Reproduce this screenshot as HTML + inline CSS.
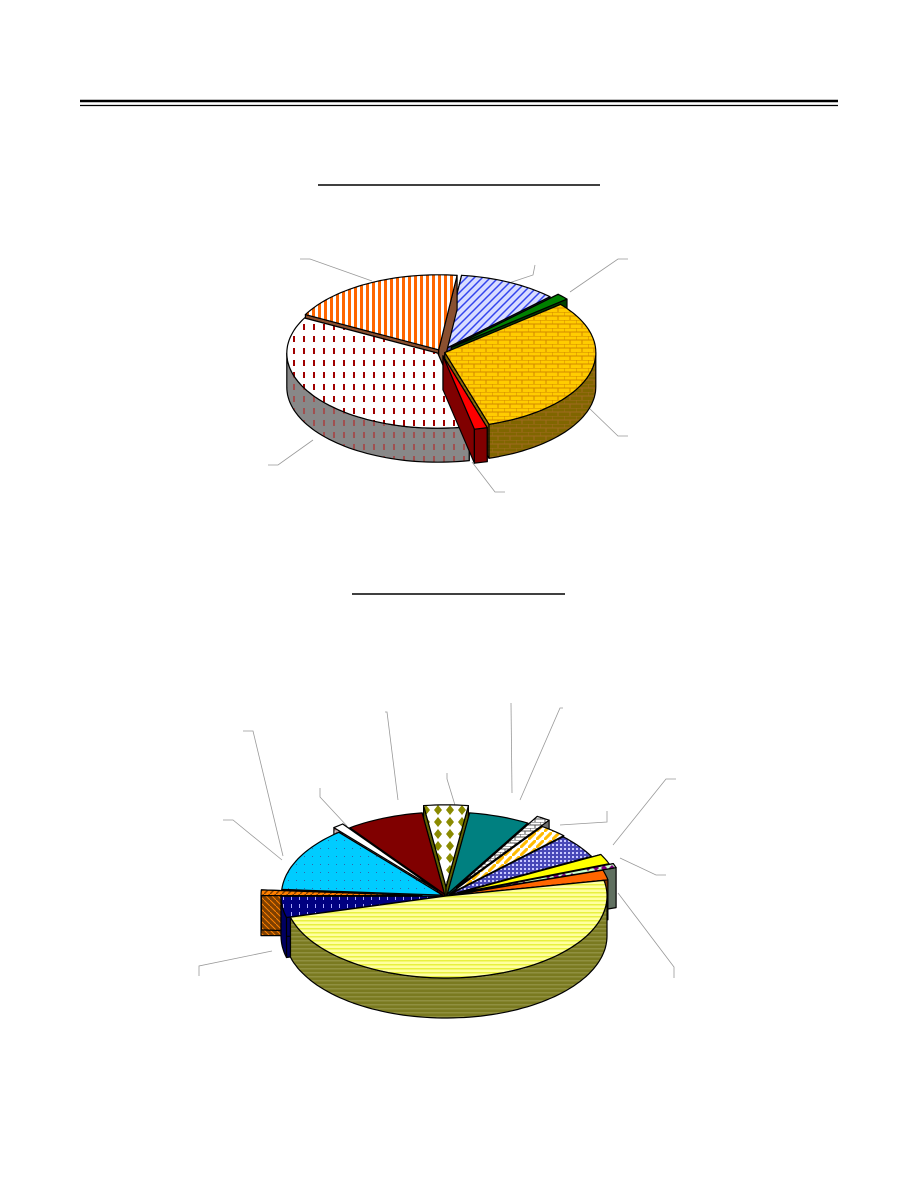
<!DOCTYPE html>
<html><head><meta charset="utf-8">
<style>
html,body{margin:0;padding:0;background:#fff;}
body{width:918px;height:1188px;overflow:hidden;font-family:"Liberation Sans",sans-serif;}
svg{position:absolute;left:0;top:0;}
</style></head>
<body>
<svg id="page" width="918" height="1188" viewBox="0 0 918 1188">
  <defs>
    <pattern id="pOrangeStripe" width="6" height="6" patternUnits="userSpaceOnUse"><rect width="6" height="6" fill="#fff"/><rect width="3" height="6" fill="#ff6600"/></pattern>
    <pattern id="pRedDash" width="10" height="12" patternUnits="userSpaceOnUse"><rect width="10" height="12" fill="#fff"/><rect x="3" y="0" width="2" height="6" fill="#a00000"/></pattern>
    <pattern id="pGrayDash" width="10" height="12" patternUnits="userSpaceOnUse"><rect width="10" height="12" fill="#888"/><rect x="3" y="0" width="2" height="6" fill="#a05050"/></pattern>
    <pattern id="pBlueWeave" width="8" height="8" patternUnits="userSpaceOnUse"><rect width="8" height="8" fill="#d8dcff"/><path d="M0 8L8 0M-2 2L2 -2M6 10L10 6" stroke="#3344ee" stroke-width="1.5"/></pattern>
    <pattern id="pBrick" width="12" height="8" patternUnits="userSpaceOnUse"><rect width="12" height="8" fill="#ffcc00"/><path d="M0 0H12M0 4H12M0 0V4M6 4V8" stroke="#d08800" stroke-width="1"/></pattern>
    <pattern id="pBrickSide" width="12" height="8" patternUnits="userSpaceOnUse"><rect width="12" height="8" fill="#806600"/><path d="M0 0H12M0 4H12M0 0V4M6 4V8" stroke="#a06a20" stroke-width="1"/></pattern>
    <pattern id="pYellowStripe" width="4" height="4" patternUnits="userSpaceOnUse"><rect width="4" height="4" fill="#ffffa0"/><rect y="0" width="4" height="1.5" fill="#e8f040"/></pattern>
    <pattern id="pOliveStripe" width="4" height="4" patternUnits="userSpaceOnUse"><rect width="4" height="4" fill="#7a7a20"/><rect y="0" width="4" height="1.5" fill="#909040"/></pattern>
    <pattern id="pOliveDiamond" width="12" height="12" patternUnits="userSpaceOnUse"><rect width="12" height="12" fill="#fff"/><path d="M6 1L10 6L6 11L2 6Z" fill="#8a8a00"/></pattern>
    <pattern id="pBlueDot" width="4" height="4" patternUnits="userSpaceOnUse"><rect width="4" height="4" fill="#4848b8"/><rect width="2" height="2" fill="#c8c8ff"/></pattern>
    <pattern id="pCyanDot" width="8" height="8" patternUnits="userSpaceOnUse"><rect width="8" height="8" fill="#00ccff"/><rect width="1" height="1" fill="#3366aa"/></pattern>
    <pattern id="pPurpleDiamond" width="8" height="8" patternUnits="userSpaceOnUse"><rect width="8" height="8" fill="#ccffcc"/><path d="M4 1L7 4L4 7L1 4Z" fill="#800080"/></pattern>
    <pattern id="pYellowDiag" width="8" height="8" patternUnits="userSpaceOnUse"><rect width="8" height="8" fill="#fff"/><path d="M0 8L8 0" stroke="#ffbb00" stroke-width="3"/></pattern>
    <pattern id="pGrayBrick" width="10" height="6" patternUnits="userSpaceOnUse"><rect width="10" height="6" fill="#fff"/><path d="M0 0H10M0 3H10M0 0V3M5 3V6" stroke="#555" stroke-width="1"/></pattern>
    <pattern id="pRedBrick" width="10" height="6" patternUnits="userSpaceOnUse"><rect width="10" height="6" fill="#996666"/><path d="M0 0H10M0 3H10M0 0V3M5 3V6" stroke="#ddd" stroke-width="1"/></pattern>
    <pattern id="pOrangeWeave" width="6" height="6" patternUnits="userSpaceOnUse"><rect width="6" height="6" fill="#ff8000"/><path d="M0 6L6 0" stroke="#804000" stroke-width="1.5"/></pattern>
    <pattern id="pBrownWeave" width="6" height="6" patternUnits="userSpaceOnUse"><rect width="6" height="6" fill="#804000"/><path d="M0 0L6 6" stroke="#ff8000" stroke-width="1"/></pattern>
    <pattern id="pNavyDash" width="8" height="8" patternUnits="userSpaceOnUse"><rect width="8" height="8" fill="#000080"/><rect x="3" width="1" height="4" fill="#aaaaff"/></pattern>
  </defs>

  <g>
    <line x1="80" y1="101" x2="838" y2="101" stroke="#000" stroke-width="2.5"/>
    <line x1="80" y1="105.5" x2="838" y2="105.5" stroke="#000" stroke-width="1.2"/>
  </g>
  <line x1="318" y1="185" x2="600" y2="185" stroke="#000" stroke-width="1.5"/>
  <line x1="352" y1="594" x2="565" y2="594" stroke="#000" stroke-width="1.5"/>

  <g id="leaders" stroke="#999" stroke-width="0.8" fill="none">
    <polyline points="300,259 310,259 372,281"/>
    <polyline points="535,265 533,275 506,284"/>
    <polyline points="628,259 618,259 570,292"/>
    <polyline points="628,436 618,436 589,408"/>
    <polyline points="505,492 495,492 472,462"/>
    <polyline points="268,465 278,465 313,440"/>
    <polyline points="243,731 253,731 283,856"/>
    <polyline points="223,820 233,820 282,860"/>
    <polyline points="320,788 320,797 347,826"/>
    <polyline points="385,712 387,712 398,800"/>
    <polyline points="447,773 447,779 458,815"/>
    <polyline points="511,703 512,793"/>
    <polyline points="563,708 560,708 520,800"/>
    <polyline points="607,811 607,822 560,825"/>
    <polyline points="676,779 666,779 613,845"/>
    <polyline points="666,875 656,875 620,858"/>
    <polyline points="674,978 674,967 618,893"/>
    <polyline points="199,976 199,966 272,951"/>
  </g>

  <g id="topPie"></g>
  <g id="bottomPie"></g>
</svg>
<script>
// ---- Top chart data ----
const topCategories = ["weave-blue","green","yellow-brick","red","white-dash","orange-stripe"];
const topValues = [38, 5, 113, 5, 130, 69];
const topStartAngle = -83;
// ---- Bottom chart data ----
const bottomCategories = ["yellow-main","navy","orange-brown","cyan","red-brick","maroon","olive-diamond","teal","gray-brick","yellow-diag","blue-dot","yellow","purple-diamond","orange"];
const bottomValues = [176, 15, 4, 46, 4, 28, 16, 22, 5, 10, 17, 7, 3, 7];
const bottomStartAngle = -11;

const topStyle = {
  cx:441, cy:352, rx:151, ry:75, depth:34,
  explode:[5,14,4,8,4,5],
  top:["url(#pBlueWeave)","#008000","url(#pBrick)","#ff0000","url(#pRedDash)","url(#pOrangeStripe)"],
  side:["#4b4bb0","#004000","url(#pBrickSide)","#800000","url(#pGrayDash)","#8a5030"]
};
const bottomStyle = {
  cx:446, cy:896, rx:161, ry:82, depth:40,
  explode:[0,4,24,4,14,4,18,4,20,6,4,14,18,4],
  top:["url(#pYellowStripe)","url(#pNavyDash)","url(#pOrangeWeave)","url(#pCyanDot)","#ffffff","#800000","url(#pOliveDiamond)","#008080","url(#pGrayBrick)","url(#pYellowDiag)","url(#pBlueDot)","#ffff00","url(#pPurpleDiamond)","#ff6600"],
  side:["url(#pOliveStripe)","#000060","url(#pBrownWeave)","#0080a0","url(#pRedBrick)","#400000","#606000","#004040","#707070","#806000","#303080","#808000","#607060","#803000"]
};

const NS = "http://www.w3.org/2000/svg";
function drawPie(gid, values, start, st, cats) {
  const g = document.getElementById(gid);
  const total = values.reduce((a,b)=>a+b,0);
  const rad = d => d*Math.PI/180;
  let a = start;
  const slices = values.map((v,i)=>{
    const a0 = a, a1 = a + v/total*360; a = a1;
    const mid = (a0+a1)/2;
    const e = st.explode[i];
    return {i, a0, a1, mid, ox: e*Math.cos(rad(mid)), oy: e*Math.sin(rad(mid))*st.ry/st.rx};
  });
  const pt = (s, ang, dy) => [st.cx + s.ox + st.rx*Math.cos(rad(ang)), st.cy + s.oy + st.ry*Math.sin(rad(ang)) + (dy||0)];
  const ctr = (s, dy) => [st.cx + s.ox, st.cy + s.oy + (dy||0)];
  const fmt = p => p[0].toFixed(1)+","+p[1].toFixed(1);
  function add(tag, attrs, name) {
    const el = document.createElementNS(NS, tag);
    for (const k in attrs) el.setAttribute(k, attrs[k]);
    
    
    g.appendChild(el);
    return el;
  }
  const order = slices.slice().sort((p,q)=>Math.sin(rad(p.mid))-Math.sin(rad(q.mid)));
  const D = st.depth;
  order.forEach(s=>{
    const cat = cats[s.i];
    // radial walls
    [s.a0, s.a1].forEach(ang=>{
      const c = ctr(s), e = pt(s, ang);
      const pts = [c, e, [e[0], e[1]+D], [c[0], c[1]+D]].map(fmt).join(" ");
      add("polygon", {points:pts, fill:st.side[s.i], stroke:"#000", "stroke-width":1.2, "stroke-linejoin":"round"}, cat+"-slice-edge");
    });
    // outer front wall: portions with sin>0
    for (let k=-1; k<=2; k++) {
      const lo = Math.max(s.a0, k*360), hi = Math.min(s.a1, k*360+180);
      if (hi > lo) {
        const top = [], bot = [];
        const n = Math.max(2, Math.ceil((hi-lo)/2));
        for (let j=0;j<=n;j++){ const an = lo+(hi-lo)*j/n; top.push(pt(s,an)); bot.push(pt(s,an,D)); }
        const pts = top.concat(bot.reverse()).map(fmt).join(" ");
        add("polygon", {points:pts, fill:st.side[s.i], stroke:"#000", "stroke-width":1.2, "stroke-linejoin":"round"}, cat+"-slice-side");
      }
    }
    // top face
    const pts = [ctr(s)];
    const n = Math.max(2, Math.ceil((s.a1-s.a0)/2));
    for (let j=0;j<=n;j++) pts.push(pt(s, s.a0+(s.a1-s.a0)*j/n));
    add("polygon", {points:pts.map(fmt).join(" "), fill:st.top[s.i], stroke:"#000", "stroke-width":1.2, "stroke-linejoin":"round"}, cat+"-slice");
  });
}
drawPie("topPie", topValues, topStartAngle, topStyle, topCategories);
drawPie("bottomPie", bottomValues, bottomStartAngle, bottomStyle, bottomCategories);
</script>
</body></html>
